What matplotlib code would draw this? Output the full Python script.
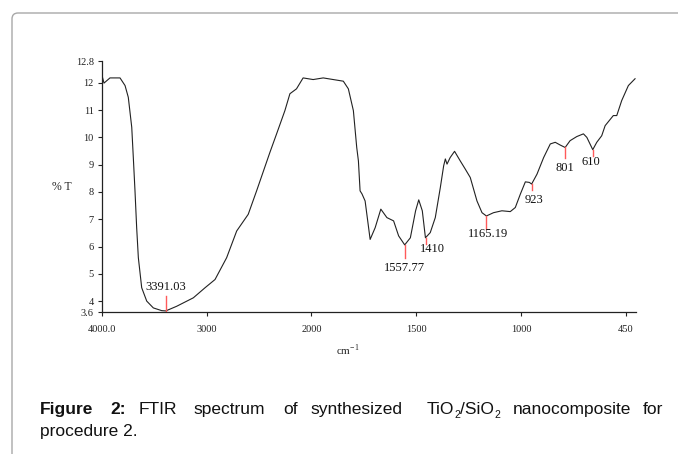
import numpy as np
import matplotlib
matplotlib.use("Agg")
import matplotlib.pyplot as plt
from matplotlib.patches import FancyBboxPatch

# spectrum (wavenumber cm-1, %T)
wavenumber = [4000, 3981, 3924, 3828, 3780, 3749, 3716, 3701, 3685, 3669,
              3653, 3621, 3573, 3510, 3430, 3391, 3287, 3128, 3016, 2921,
              2810, 2714, 2604, 2524, 2397, 2333, 2254, 2206, 2143, 2080,
              1992, 1944, 1864, 1848, 1824, 1800, 1784, 1776, 1768, 1759,
              1744, 1720, 1696, 1669, 1640, 1608, 1584, 1555, 1528, 1503,
              1488, 1471, 1456, 1433, 1409, 1385, 1369, 1361, 1353, 1338,
              1317, 1290, 1266, 1242, 1210, 1186, 1165, 1131, 1091, 1051,
              1027, 1003, 977, 956, 944, 916, 881, 846, 820, 794,
              768, 742, 707, 672, 654, 623, 602, 576, 558, 515,
              497, 471, 436, 401]
transmittance = [12.27, 11.99, 12.18, 12.18, 11.90, 11.47, 10.37, 9.26, 8.04, 6.69,
                 5.59, 4.49, 4.00, 3.75, 3.65, 3.64, 3.81, 4.12, 4.49, 4.79,
                 5.59, 6.57, 7.18, 8.04, 9.45, 10.13, 10.98, 11.60, 11.78, 12.18,
                 12.12, 12.18, 12.08, 12.06, 11.78, 10.98, 9.63, 9.14, 8.04, 7.93,
                 7.67, 6.26, 6.69, 7.37, 7.06, 6.94, 6.39, 6.06, 6.32, 7.31,
                 7.71, 7.31, 6.32, 6.51, 7.06, 8.16, 8.96, 9.21, 9.02, 9.26,
                 9.49, 9.14, 8.84, 8.53, 7.67, 7.24, 7.12, 7.24, 7.31, 7.28,
                 7.43, 7.92, 8.37, 8.35, 8.29, 8.65, 9.26, 9.76, 9.82, 9.72,
                 9.63, 9.88, 10.03, 10.13, 10.00, 9.55, 9.82, 10.06, 10.43, 10.80,
                 10.80, 11.35, 11.90, 12.15]

# axis ticks (the instrument axis is compressed below 2000)
x_ticks = [4000, 3000, 2000, 1500, 1000, 450]
x_tick_labels = ["4000.0", "3000", "2000", "1500", "1000", "450"]
y_ticks = [3.6, 4, 5, 6, 7, 8, 9, 10, 11, 12, 12.8]
y_tick_labels = ["3.6", "4", "5", "6", "7", "8", "9", "10", "11", "12", "12.8"]

# peak marks: where the red tick sits, tick end, label text and label spot
peak_x = [3391, 1555, 1451, 1165, 944, 768, 623]
peak_y = [3.65, 6.06, 6.32, 7.12, 8.29, 9.63, 9.55]
peak_end = [4.18, 5.59, 6.10, 6.64, 8.07, 9.24, 9.33]
peak_text = ["3391.03", "1557.77", "1410", "1165.19", "923", "801", "610"]
peak_text_x = [3391, 1555, 1423, 1155, 929, 768, 632]
peak_text_y = [4.51, 5.20, 5.90, 6.45, 7.71, 8.88, 9.08]

# breakpoints of the piecewise axis
wn_bp = [350, 450, 1000, 1500, 2000, 3000, 4000, 4100]
pos_bp = [-5.182, -5, -4, -3, -2, -1, 0, 0.1]

W, H = 678, 454
CAP_SIZE = 12.5


def forward(x):
    return np.interp(x, wn_bp, pos_bp)


def inverse(p):
    return np.interp(p, pos_bp, wn_bp)


def fx(px):
    return px / W


def fy(py):
    return 1 - py / H


def draw_spectrum(fig):
    ax = fig.add_axes([fx(102), fy(312), fx(636) - fx(102), fy(61) - fy(312)])
    ax.set_xscale("function", functions=(forward, inverse))
    ax.plot(wavenumber, transmittance, color="#222222", lw=0.8)

    for x, y0, y1 in zip(peak_x, peak_y, peak_end):
        ax.plot([x, x], [y0, y1], color="#ff5a5a", lw=1.0)
    for x, y, t in zip(peak_text_x, peak_text_y, peak_text):
        ax.text(x, y, t, ha="center", va="center", fontsize=9,
                family="Liberation Serif", color="#111111")

    ax.set_xlim(4000, 396)
    ax.set_ylim(3.6, 12.8)
    ax.set_xticks(x_ticks)
    ax.set_xticklabels(x_tick_labels)
    ax.set_yticks(y_ticks)
    ax.set_yticklabels(y_tick_labels)
    ax.minorticks_off()
    for s in ["top", "right"]:
        ax.spines[s].set_visible(False)
    for s in ["left", "bottom"]:
        ax.spines[s].set_linewidth(0.9)
        ax.spines[s].set_color("#222222")
    ax.tick_params(axis="both", direction="out", length=3, width=0.8,
                   labelsize=7.5, colors="#222222")
    ax.tick_params(axis="x", pad=6)
    ax.tick_params(axis="y", pad=3)
    for lab in ax.get_xticklabels() + ax.get_yticklabels():
        lab.set_family("Liberation Serif")
    ax.set_facecolor("none")
    return ax


def draw_labels(fig):
    fig.text(fx(62), fy(187), "% T", ha="center", va="center",
             fontsize=8.5, family="Liberation Serif", color="#222222")
    fig.text(fx(336), fy(350), r"cm$^{\mathregular{-1}}$", ha="left",
             va="center", fontsize=8, family="Liberation Serif", color="#222222")


def chain_text(fig, x_px, y_px, pieces):
    # pieces: (text, baseline shift in px, size); laid out one after another
    renderer = fig.canvas.get_renderer()
    for s, dy, size in pieces:
        t = fig.text(fx(x_px), fy(y_px + dy), s, ha="left", va="baseline",
                     fontsize=size, family="Liberation Sans", color="#111111")
        x_px += t.get_window_extent(renderer).width


def draw_caption(fig):
    sans = "Liberation Sans"
    words = [("Figure", 40, "bold"), ("2:", 110, "bold"), ("FTIR", 139, "normal"),
             ("spectrum", 193, "normal"), ("of", 283, "normal"),
             ("synthesized", 310, "normal"),
             ("nanocomposite", 513, "normal"), ("for", 643, "normal")]
    for w, x, weight in words:
        fig.text(fx(x), fy(414), w, ha="left", va="baseline", fontsize=CAP_SIZE,
                 family=sans, weight=weight, color="#111111")
    chain_text(fig, 427, 414, [("TiO", 0, CAP_SIZE), ("2", 4, 7.5),
                               ("/SiO", 0, CAP_SIZE), ("2", 4, 7.5)])
    fig.text(fx(40), fy(436), "procedure 2.", ha="left", va="baseline",
             fontsize=CAP_SIZE, family=sans, color="#111111")


def draw_frame(fig):
    box = FancyBboxPatch((0.12, -1.0), 10, 4.54 - 0.13 + 1.0,
                         boxstyle="round,pad=0,rounding_size=0.06",
                         transform=fig.dpi_scale_trans, fill=False,
                         edgecolor="#a8a8a8", lw=1.0)
    fig.add_artist(box)


def main():
    fig = plt.figure(figsize=(W / 100, H / 100), dpi=100)
    fig.patch.set_facecolor("white")
    draw_frame(fig)
    draw_spectrum(fig)
    draw_labels(fig)
    draw_caption(fig)
    fig.savefig("out.png", dpi=100)


if __name__ == "__main__":
    main()
